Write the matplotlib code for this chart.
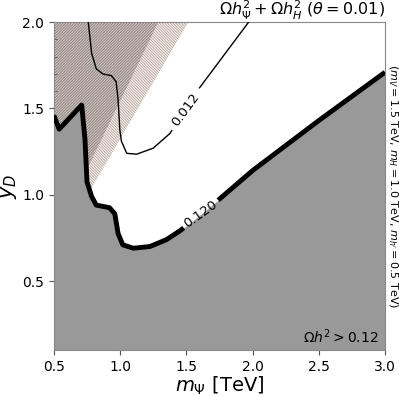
import numpy as np
import matplotlib
matplotlib.use("Agg")
import matplotlib.pyplot as plt
from matplotlib.ticker import MultipleLocator

# Omega h^2 = 0.120 contour (m_Psi [TeV], y_D)
m_120 = [0.5, 0.54, 0.71, 0.735, 0.75, 0.785, 0.82, 0.92, 0.96, 0.985, 1.02,
         1.10, 1.225, 1.35, 1.45, 1.55, 1.75, 2.0, 2.5, 3.0]
y_120 = [1.46, 1.38, 1.52, 1.32, 1.075, 0.99, 0.94, 0.925, 0.89, 0.775, 0.71,
         0.69, 0.70, 0.74, 0.79, 0.85, 0.975, 1.14, 1.43, 1.71]

# Omega h^2 = 0.012 contour
m_012 = [0.76, 0.785, 0.82, 0.87, 0.935, 0.97, 0.985, 0.998, 1.01, 1.05,
         1.125, 1.25, 1.376, 1.49, 1.60, 1.97]
y_012 = [2.0, 1.82, 1.73, 1.70, 1.69, 1.655, 1.55, 1.375, 1.31, 1.24,
         1.235, 1.27, 1.355, 1.49, 1.62, 2.0]

# excluded regions (hatched), edge in m_Psi as function of y_D
y_excl = [0.9, 2.0]
m_excl_a = [0.679, 1.515]
m_excl_b = [0.594, 1.288]

# contour labels: text, curve, m_Psi range of the gap in the line, rotation
labels = [("0.120", m_120, y_120, 1.48, 1.74, 35.5),
          ("0.012", m_012, y_012, 1.39, 1.60, 53.6)]


def draw_with_gap(m, y, m0, m1, **kw):
    m = np.asarray(m)
    y = np.asarray(y)
    y0, y1 = np.interp([m0, m1], m, y)
    left = m < m0
    right = m > m1
    ax.plot(np.r_[m[left], m0], np.r_[y[left], y0], **kw)
    ax.plot(np.r_[m1, m[right]], np.r_[y1, y[right]], **kw)


plt.rcParams['hatch.linewidth'] = 0.5
fig, ax = plt.subplots(figsize=(3.99, 3.96), dpi=100)
fig.subplots_adjust(left=0.135, right=0.965, bottom=0.116, top=0.944)

ax.fill_betweenx(y_excl, 0.5, m_excl_a, facecolor='#f4f0ec', edgecolor='#ad978d',
                 hatch='\\' * 12, linewidth=0, zorder=1)
ax.fill_betweenx(y_excl, 0.5, m_excl_b, facecolor='#c4bbb6', edgecolor='#645957',
                 hatch='/' * 12, linewidth=0, alpha=0.7, zorder=1.5)

ax.fill_between(m_120, 0.1, y_120, color='#999999', linewidth=0, zorder=2)

draw_with_gap(m_120, y_120, 1.48, 1.74, color='k', lw=3.5, zorder=3,
              solid_capstyle='butt')
draw_with_gap(m_012, y_012, 1.39, 1.60, color='k', lw=1.0, zorder=3)

for txt, m, y, m0, m1, rot in labels:
    xm = 0.5 * (m0 + m1)
    ym = np.mean(np.interp([m0, m1], m, y))
    ax.text(xm, ym, txt, rotation=rot, ha='center', va='center',
            rotation_mode='anchor', fontsize=9.5, zorder=4)

ax.set_xlim(0.5, 3.0)
ax.set_ylim(0.1, 2.0)
ax.set_xticks([0.5, 1.0, 1.5, 2.0, 2.5, 3.0])
ax.set_yticks([0.5, 1.0, 1.5, 2.0])
ax.xaxis.set_minor_locator(MultipleLocator(0.1))
ax.yaxis.set_minor_locator(MultipleLocator(0.1))
ax.tick_params(which='major', direction='out', length=3.5, labelsize=10, color='#555555')
ax.tick_params(which='minor', direction='in', length=2, color='#555555')
for s in ax.spines.values():
    s.set_color('#888888')

ax.set_xlabel(r'$m_\Psi$ [TeV]', fontsize=14, labelpad=1)
ax.set_ylabel(r'$y_D$', fontsize=15, labelpad=2)
ax.set_title(r'$\Omega h_\Psi^2 + \Omega h_H^2\ (\theta = 0.01)$', loc='right',
             fontsize=11.5, pad=1)
ax.text(1.002, 0.5, r'$(m_V = 1.5$ TeV, $m_H = 1.0$ TeV, $m_{h^\prime} = 0.5$ TeV$)$',
        rotation=270, ha='left', va='center', fontsize=8, transform=ax.transAxes)
ax.text(0.98, 0.012, r'$\Omega h^2 > 0.12$', ha='right', va='bottom', fontsize=10,
        transform=ax.transAxes, zorder=5)

plt.savefig('out.png', dpi=100)
